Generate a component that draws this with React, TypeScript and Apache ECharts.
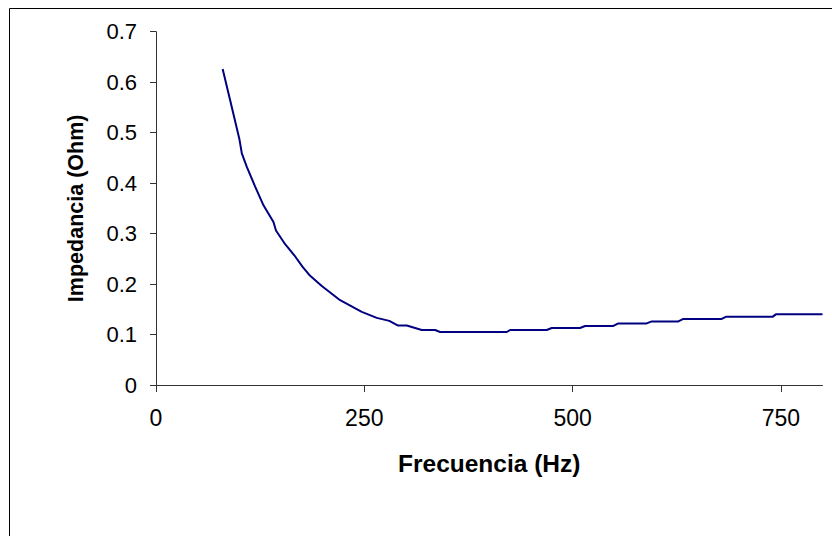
import React, { useEffect, useRef } from "react";
import * as echarts from "echarts";

const frequencyHz = [
  80, 89, 100, 103, 109, 119, 129, 141, 144, 155, 166, 176, 184, 199, 221, 247,
  265, 280, 290, 301, 319, 335, 341, 421, 425, 469, 475, 509, 515, 549, 555,
  589, 595, 627, 633, 679, 684, 740, 744, 800,
];
const impedanceOhm = [
  0.626, 0.564, 0.488, 0.459, 0.432, 0.393, 0.356, 0.323, 0.306, 0.279, 0.257,
  0.234, 0.218, 0.196, 0.168, 0.145, 0.133, 0.127, 0.118, 0.118, 0.109, 0.109,
  0.105, 0.105, 0.109, 0.109, 0.113, 0.113, 0.117, 0.117, 0.122, 0.122, 0.126,
  0.126, 0.131, 0.131, 0.135, 0.135, 0.14, 0.14,
];
const xTicks = [0, 250, 500, 750];

export default function App() {
  const ref = useRef<HTMLDivElement>(null);
  useEffect(() => {
    if (!ref.current) return;
    const chart = echarts.init(ref.current, undefined, { renderer: "svg" });
    const font = "Liberation Sans, Arial, sans-serif";
    chart.setOption({
      animation: false,
      backgroundColor: "#ffffff",
      graphic: [
        {
          type: "rect",
          shape: { x: 9.5, y: 8.5, width: 900, height: 600 },
          style: { fill: "none", stroke: "#000000", lineWidth: 1 },
          silent: true,
        },
      ],
      grid: { left: 156, right: 9.5, top: 31.7, bottom: 151 },
      xAxis: {
        type: "value",
        min: 0,
        max: 800,
        interval: 250,
        name: "Frecuencia (Hz)",
        nameLocation: "middle",
        nameGap: 66,
        nameTextStyle: { fontFamily: font, fontSize: 24.5, fontWeight: "bold", color: "#000" },
        axisLine: { show: true, lineStyle: { color: "#333", width: 1 } },
        axisTick: { show: true, inside: false, length: 7, lineStyle: { color: "#333" }, customValues: xTicks },
        axisLabel: { fontFamily: font, fontSize: 23, color: "#000", margin: 21, customValues: xTicks },
        splitLine: { show: false },
      },
      yAxis: {
        type: "value",
        min: 0,
        max: 0.7,
        interval: 0.1,
        name: "Impedancia (Ohm)",
        nameLocation: "middle",
        nameGap: 69,
        nameTextStyle: { fontFamily: font, fontSize: 21.5, fontWeight: "bold", color: "#000" },
        axisLine: { show: true, lineStyle: { color: "#333", width: 1 } },
        axisTick: { show: true, inside: false, length: 6, lineStyle: { color: "#333" } },
        axisLabel: { fontFamily: font, fontSize: 22, color: "#000", margin: 19 },
        splitLine: { show: false },
      },
      series: [
        {
          type: "line",
          data: frequencyHz.map((f, i) => [f, impedanceOhm[i]]),
          showSymbol: false,
          lineStyle: { color: "#000080", width: 2 },
          itemStyle: { color: "#000080" },
        },
      ],
    });
    return () => chart.dispose();
  }, []);
  return (
    <div
      ref={ref}
      style={{ position: "fixed", left: 0, top: 0, width: 832, height: 536 }}
    />
  );
}
